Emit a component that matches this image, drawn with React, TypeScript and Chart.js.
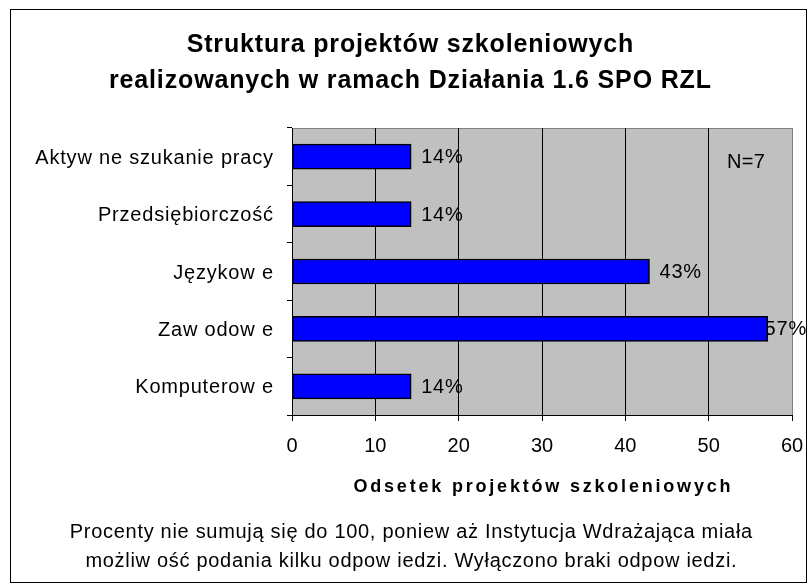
import React, { useEffect, useRef } from "react";
import { Chart, registerables } from "chart.js";

Chart.register(...registerables);

const categories = [
  "Aktyw ne szukanie pracy",
  "Przedsiębiorczość",
  "Językow e",
  "Zaw odow e",
  "Komputerow e",
];
const values = [14.3, 14.3, 42.9, 57.1, 14.3];
const xTicks = [0, 10, 20, 30, 40, 50, 60];
const titleLines = [
  "Struktura projektów szkoleniowych",
  "realizowanych w ramach Działania 1.6 SPO RZL",
];
const axisTitle = "Odsetek projektów szkoleniowych";
const noteLines = [
  "Procenty nie sumują się do 100, poniew aż Instytucja Wdrażająca miała",
  "możliw ość podania kilku odpow iedzi. Wyłączono braki odpow iedzi.",
];
const nLabel = "N=7";

const FAM = '"Liberation Sans", Arial, sans-serif';

function drawText(
  ctx: CanvasRenderingContext2D,
  s: string,
  x: number,
  y: number,
  font: string,
  align: "left" | "center" | "right",
  spacing: number
) {
  ctx.save();
  ctx.font = font;
  (ctx as any).letterSpacing = spacing + "px";
  ctx.fillStyle = "#000";
  ctx.textBaseline = "alphabetic";
  ctx.textAlign = "left";
  const w = ctx.measureText(s).width - spacing;
  let xx = x;
  if (align === "center") xx = x - w / 2;
  else if (align === "right") xx = x - w;
  ctx.fillText(s, xx, y);
  ctx.restore();
  return w;
}

const decorPlugin = {
  id: "decor",
  beforeDraw(chart: any) {
    const { ctx, chartArea } = chart;
    ctx.save();
    ctx.fillStyle = "#fff";
    ctx.fillRect(0, 0, chart.width, chart.height);
    ctx.fillStyle = "#C0C0C0";
    ctx.fillRect(
      chartArea.left,
      chartArea.top,
      chartArea.right - chartArea.left,
      chartArea.bottom - chartArea.top
    );
    ctx.strokeStyle = "#808080";
    ctx.lineWidth = 1;
    ctx.beginPath();
    ctx.moveTo(chartArea.left, chartArea.top + 0.5);
    ctx.lineTo(chartArea.right, chartArea.top + 0.5);
    ctx.stroke();
    ctx.strokeStyle = "#000";
    ctx.strokeRect(10.5, 9.5, 796, 573);
    ctx.restore();
  },
  beforeDatasetsDraw(chart: any) {
    const { ctx } = chart;
    const meta = chart.getDatasetMeta(0);
    const font = `20px ${FAM}`;
    meta.data.forEach((bar: any, i: number) => {
      const label = Math.round(values[i]) + "%";
      ctx.save();
      ctx.font = font;
      (ctx as any).letterSpacing = "0.8px";
      const w = ctx.measureText(label).width;
      ctx.restore();
      const x = Math.min(bar.x + 10, 807 - w);
      drawText(ctx, label, x, bar.y + 6.5, font, "left", 0.8);
    });
  },
  afterDraw(chart: any) {
    const { ctx } = chart;
    const yScale = chart.scales.y;
    const xScale = chart.scales.x;
    // title
    drawText(ctx, titleLines[0], 410, 52, `bold 25px ${FAM}`, "center", 0.85);
    drawText(ctx, titleLines[1], 410, 88, `bold 25px ${FAM}`, "center", 0.85);
    // category labels
    categories.forEach((c, i) => {
      const y = yScale.getPixelForValue(i);
      drawText(ctx, c, 273, y + 7, `20px ${FAM}`, "right", 0.8);
    });
    // x tick labels
    xTicks.forEach((v) => {
      const x = xScale.getPixelForValue(v);
      drawText(ctx, String(v), x, 452, `20px ${FAM}`, "center", 0);
    });
    // N label
    drawText(ctx, nLabel, 727, 168, `20px ${FAM}`, "left", 0.3);
    // axis title
    const cx = (chart.chartArea.left + chart.chartArea.right) / 2;
    drawText(ctx, axisTitle, cx, 492, `bold 18px ${FAM}`, "center", 2.8);
    // footnote
    drawText(ctx, noteLines[0], 411, 538, `20px ${FAM}`, "center", 0.7);
    drawText(ctx, noteLines[1], 411, 567, `20px ${FAM}`, "center", 0.7);
  },
};

export default function App() {
  const ref = useRef<HTMLCanvasElement | null>(null);
  useEffect(() => {
    document.body.style.margin = "0";
    const canvas = ref.current!;
    const chart = new Chart(canvas, {
      type: "bar",
      data: {
        labels: categories,
        datasets: [
          {
            data: values,
            backgroundColor: "#0000FF",
            borderColor: "#000000",
            borderWidth: 1.5,
            borderSkipped: false,
            barThickness: 25,
          },
        ],
      },
      options: {
        indexAxis: "y",
        responsive: false,
        animation: false,
        devicePixelRatio: 1,
        layout: { padding: { left: 0, right: 19, top: 128, bottom: 0 } },
        plugins: {
          legend: { display: false },
          title: { display: false },
          tooltip: { enabled: false },
        },
        scales: {
          y: {
            type: "category",
            position: "left",
            offset: true,
            afterFit: (s: any) => {
              s.width = 292;
            },
            ticks: { display: false },
            grid: {
              drawOnChartArea: false,
              drawTicks: true,
              tickLength: 5,
              color: "#000",
              offset: true,
            },
            border: { color: "#000", width: 1 },
          },
          x: {
            type: "linear",
            position: "bottom",
            min: 0,
            max: 60,
            afterFit: (s: any) => {
              s.height = 170;
            },
            ticks: { display: false, stepSize: 10 },
            grid: {
              color: (c: any) =>
                c.tick && c.tick.value === 60 ? "#808080" : "#000",
              tickColor: "#000",
              tickLength: 6,
              lineWidth: 1,
            },
            border: { color: "#000", width: 1 },
          },
        },
      },
      plugins: [decorPlugin],
    });
    return () => chart.destroy();
  }, []);
  return (
    <div style={{ position: "absolute", left: 0, top: 0, width: 811, height: 585 }}>
      <canvas ref={ref} width={811} height={585} style={{ width: 811, height: 585 }} />
    </div>
  );
}
